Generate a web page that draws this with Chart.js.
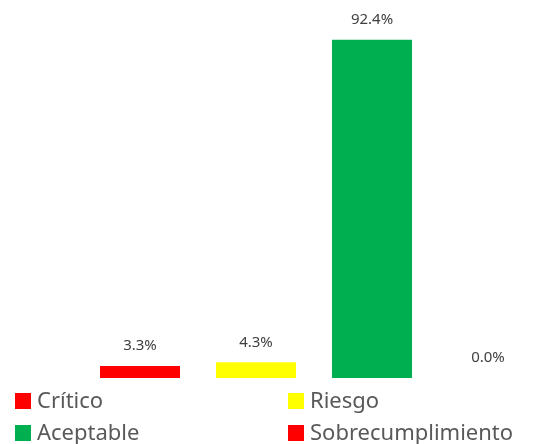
<!DOCTYPE html>
<html>
<head>
<meta charset="utf-8">
<script src="https://cdn.jsdelivr.net/npm/chart.js@4"></script>
<style>
    html, body { margin: 0; padding: 0; background: #fff; overflow: hidden; }
    #wrap { position: relative; width: 541px; height: 444px; overflow: hidden; }
    #chart { position: absolute; left: 0; top: 0; }
    #legend { position: absolute; left: 0; top: 0; width: 541px; font-family: "Noto Sans", sans-serif; font-size: 22px; line-height: 24px; color: #595959; }
    .item { position: absolute; display: flex; align-items: center; white-space: nowrap; height: 24px; }
    .box { width: 16px; height: 16px; margin-right: 6px; flex: none; }
    .txt { position: relative; top: -2px; }
</style>
</head>
<body>
<div id="wrap">
    <canvas id="chart" width="546" height="444"></canvas>
    <div id="legend"></div>
</div>
<script>
const categories = ["Crítico", "Riesgo", "Aceptable", "Sobrecumplimiento"];
const values = [3.3, 4.3, 92.4, 0.0];
const colors = ["#FF0000", "#FFFF00", "#00B050", "#FF0000"];

// value labels above the bars
const valueLabels = {
    id: "valueLabels",
    afterDatasetsDraw(chart) {
        const ctx = chart.ctx;
        const meta = chart.getDatasetMeta(0);
        ctx.save();
        ctx.font = "15px 'Noto Sans', sans-serif";
        ctx.fillStyle = "#404040";
        ctx.textAlign = "center";
        ctx.textBaseline = "middle";
        meta.data.forEach((bar, i) => {
            ctx.fillText(values[i].toFixed(1) + "%", bar.x, bar.y - 20);
        });
        ctx.restore();
    },
};

new Chart(document.getElementById("chart"), {
    type: "bar",
    data: {
        labels: categories,
        datasets: [
            {
                data: values,
                backgroundColor: colors,
                categoryPercentage: 1,
                barPercentage: 0.69,
            },
        ],
    },
    options: {
        responsive: false,
        animation: false,
        layout: { padding: { left: 82, right: 0, top: 12, bottom: 66 } },
        plugins: { legend: { display: false }, tooltip: { enabled: false } },
        scales: {
            x: { display: false },
            y: { display: false, min: 0, max: 100 },
        },
    },
    plugins: [valueLabels],
});

// two-column legend
const legend = document.getElementById("legend");
const pos = [[15, 389], [288, 389], [15, 421], [288, 421]];
categories.forEach((name, i) => {
    const item = document.createElement("div");
    item.className = "item";
    item.style.left = pos[i][0] + "px";
    item.style.top = pos[i][1] + "px";
    const box = document.createElement("span");
    box.className = "box";
    box.style.background = colors[i];
    const txt = document.createElement("span");
    txt.className = "txt";
    txt.textContent = name;
    item.appendChild(box);
    item.appendChild(txt);
    legend.appendChild(item);
});
</script>
</body>
</html>
